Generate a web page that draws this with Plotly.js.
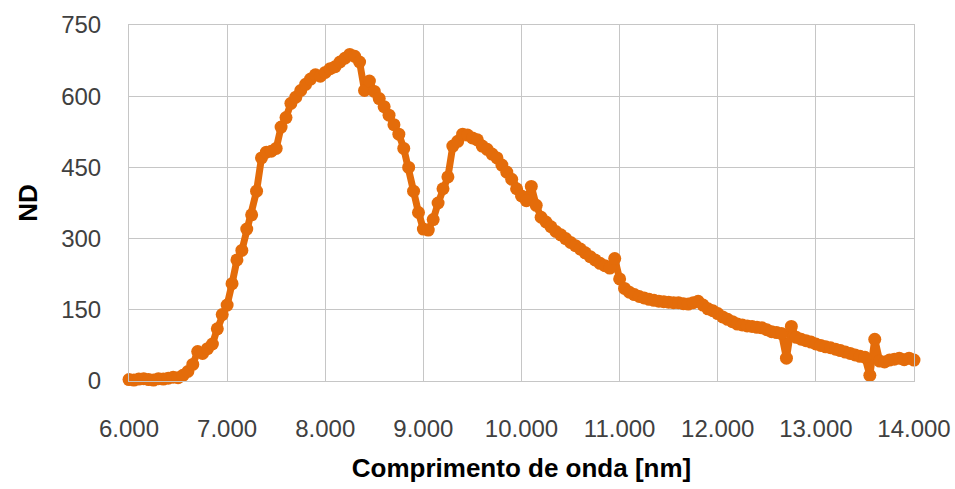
<!DOCTYPE html>
<html>
<head>
<meta charset="utf-8">
<script src="https://cdn.plot.ly/plotly-3.0.1.min.js"></script>
<style>html,body{margin:0;padding:0;background:#fff;}#chart{width:955px;height:489px;}</style>
</head>
<body>
<div id="chart"></div>
<script>
// Wavelength (nm) and ND values
const wavelength = [
  6000,6050,6100,6150,6200,6250,6300,6350,6400,6450,
  6500,6550,6600,6650,6700,6750,6800,6850,6900,6950,
  7000,7050,7100,7150,7200,7250,7300,7350,7400,7450,
  7500,7550,7600,7650,7700,7750,7800,7850,7900,7950,
  8000,8050,8100,8150,8200,8250,8300,8350,8400,8450,
  8500,8550,8600,8650,8700,8750,8800,8850,8900,8950,
  9000,9050,9100,9150,9200,9250,9300,9350,9400,9450,
  9500,9550,9600,9650,9700,9750,9800,9850,9900,9950,
  10000,10050,10100,10150,10200,10250,10300,10350,10400,10450,
  10500,10550,10600,10650,10700,10750,10800,10850,10900,10950,
  11000,11050,11100,11150,11200,11250,11300,11350,11400,11450,
  11500,11550,11600,11650,11700,11750,11800,11850,11900,11950,
  12000,12050,12100,12150,12200,12250,12300,12350,12400,12450,
  12500,12550,12600,12650,12700,12750,12800,12850,12900,12950,
  13000,13050,13100,13150,13200,13250,13300,13350,13400,13450,
  13500,13550,13600,13650,13700,13750,13800,13850,13900,13950,
  14000
];
const ndValues = [
  3,2,4,5,3,2,5,4,6,8,
  7,12,20,35,62,58,68,78,110,140,
  160,205,255,275,320,350,400,470,482,484,
  490,535,555,585,598,612,625,636,645,642,
  650,658,662,672,680,688,684,672,612,632,
  610,595,578,560,540,520,490,450,400,355,
  320,318,340,375,405,430,495,505,520,518,
  512,508,495,488,478,470,455,440,425,405,
  390,380,410,370,345,335,325,315,308,300,
  292,285,278,270,262,255,248,243,238,258,
  215,195,187,182,178,175,172,170,168,167,
  166,165,165,163,162,165,168,160,152,148,
  142,135,130,125,120,118,116,115,113,112,
  108,104,102,100,48,115,92,88,85,82,
  78,75,72,70,67,64,61,58,55,52,
  50,12,88,42,40,44,46,48,45,48,
  44
];
const xTicks = [6000,7000,8000,9000,10000,11000,12000,13000,14000];
const yTicks = [0,150,300,450,600,750];

const orange = '#E46C0A';
const trace = {
  x: wavelength,
  y: ndValues,
  type: 'scatter',
  mode: 'lines+markers',
  line: {color: orange, width: 7},
  marker: {color: orange, size: 13},
  cliponaxis: false,
  hoverinfo: 'x+y'
};

const tickFont = {family: 'Liberation Sans, Arial, sans-serif', size: 24, color: '#404040'};
const titleFont = {family: 'Liberation Sans, Arial, sans-serif', size: 26, color: '#000', weight: 'bold'};

const layout = {
  width: 955, height: 489,
  margin: {l: 129, r: 41, t: 25, b: 108},
  paper_bgcolor: '#fff', plot_bgcolor: '#fff',
  separators: ',.',
  showlegend: false,
  xaxis: {
    range: [6000, 14000],
    tickvals: xTicks,
    tickformat: ',d',
    showgrid: true, gridcolor: '#c6c6c6', gridwidth: 1,
    showline: true, linecolor: '#c6c6c6', linewidth: 1, mirror: true,
    zeroline: false,
    ticks: '', ticklabelstandoff: 26,
    tickfont: tickFont,
    title: {text: 'Comprimento de onda [nm]', font: titleFont, standoff: 18},
    automargin: false
  },
  yaxis: {
    range: [0, 750],
    tickvals: yTicks,
    showgrid: true, gridcolor: '#c6c6c6', gridwidth: 1,
    showline: true, linecolor: '#c6c6c6', linewidth: 1, mirror: true,
    zeroline: false,
    ticks: '', ticklabelstandoff: 22,
    tickfont: tickFont,
    title: {text: 'ND', font: titleFont, standoff: 16},
    automargin: false
  }
};

Plotly.newPlot('chart', [trace], layout, {displayModeBar: false, staticPlot: true});
</script>
</body>
</html>
